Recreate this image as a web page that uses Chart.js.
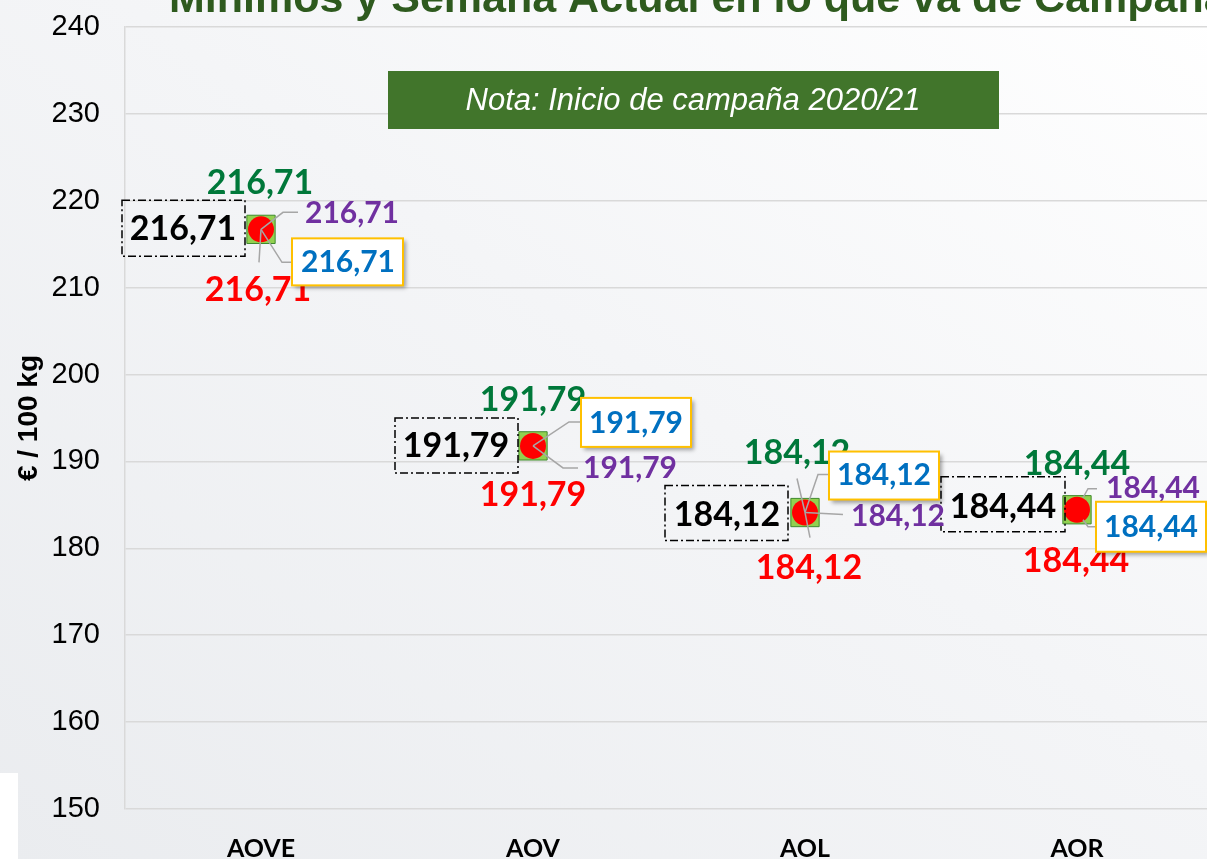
<!DOCTYPE html>
<html lang="es">
<head>
<meta charset="utf-8">
<title>Mínimos y Semana Actual en lo que va de Campaña</title>
<script src="https://cdn.jsdelivr.net/npm/chart.js@4.4.1/dist/chart.umd.min.js"></script>
<style>
    html, body { margin: 0; padding: 0; overflow: hidden; }
    body {
        width: 1207px; height: 859px; position: relative;
        background: linear-gradient(to bottom left, #ffffff 0%, #f4f5f7 45%, #eaecef 100%);
    }
    #wrap { position: absolute; left: 0; top: 0; width: 1215px; height: 859px; }
    #logo { position: absolute; left: 0; top: 773px; width: 18px; height: 86px; background: #fff; }
</style>
</head>
<body>
<div id="logo"></div>
<div id="wrap"><canvas id="myChart" width="1215" height="859"></canvas></div>
<script>
const categories = ['AOVE', 'AOV', 'AOL', 'AOR'];

// valores en €/100 kg (todos iguales al inicio de campaña)
const semanaActual = [216.71, 191.79, 184.12, 184.44];
const maximos = [216.71, 191.79, 184.12, 184.44];
const minimos = [216.71, 191.79, 184.12, 184.44];
const medias = [216.71, 191.79, 184.12, 184.44];
const inicioCampana = [216.71, 191.79, 184.12, 184.44];

const yTicks = { min: 150, max: 240, step: 10 };

// dónde va cada etiqueta respecto a su punto (px)
const labelLayout = {
    semana: [
        { dx: -3, dy: 61, leader: [[0, 0], [-2, 33]] },
        { dx: 0, dy: 49 },
        { dx: 4, dy: 55, leader: [[0, 0], [5, 25]] },
        { dx: -1, dy: 51 }
    ],
    maximo: [
        { dx: -1, dy: -46 },
        { dx: 0, dy: -46 },
        { dx: -8, dy: -60, leader: [[-8, -34], [0, 0]] },
        { dx: 0, dy: -46 }
    ],
    minimo: [
        { dx: -78, dy: 0, box: [-139, -29, -16, 27] },
        { dx: -77, dy: 0, box: [-138, -28, -15, 27] },
        { dx: -78, dy: 2, box: [-140, -27, -17, 28] },
        { dx: -74, dy: -3, box: [-136, -33, -12, 22] }
    ],
    media: [
        { dx: 91, dy: -16, leader: [[0, 0], [22, -17], [37, -17]] },
        { dx: 97, dy: 22, leader: [[0, 0], [30, 22], [45, 22]] },
        { dx: 93, dy: 4, leader: [[0, 0], [38, 2]] },
        { dx: 76, dy: -21, leader: [[6, -12], [11, -21], [20, -21]] }
    ],
    inicio: [
        { dx: 87, dy: 33, box: [31, 9, 142, 56], leader: [[0, 0], [21, 33], [31, 33]] },
        { dx: 103, dy: -23, box: [48, -48, 158, 1], leader: [[0, 0], [36, -24], [48, -24]] },
        { dx: 79, dy: -37, box: [24, -61, 134, -13], leader: [[0, 0], [13, -38], [24, -38]] },
        { dx: 74, dy: 18, box: [19, -8, 129, 42], leader: [[6, 10], [11, 17], [19, 17]] }
    ]
};

const labelStyle = {
    semana: { color: '#FF0000', size: 34 },
    maximo: { color: '#00783A', size: 34 },
    minimo: { color: '#000000', size: 34, frame: 'dashdot' },
    media: { color: '#7030A0', size: 30 },
    inicio: { color: '#0070C0', size: 30, frame: 'gold' }
};

const fmt = v => v.toFixed(2).replace('.', ',');

const etiquetas = {
    id: 'etiquetas',
    afterDatasetsDraw(chart) {
        const ctx = chart.ctx;
        const area = chart.chartArea;
        ctx.save();

        // nota
        ctx.fillStyle = '#41752B';
        ctx.fillRect(area.left + 263, area.top + 44, 611, 58);
        ctx.fillStyle = '#ffffff';
        ctx.font = 'italic 31px "Liberation Sans", Arial, sans-serif';
        ctx.textAlign = 'center';
        ctx.textBaseline = 'middle';
        ctx.fillText('Nota: Inicio de campaña 2020/21', area.left + 263 + 305, area.top + 44 + 30);

        // líneas guía
        chart.data.datasets.forEach((ds, di) => {
            const meta = chart.getDatasetMeta(di);
            meta.data.forEach((pt, i) => {
                const lay = labelLayout[ds.key][i];
                if (!lay.leader) return;
                ctx.beginPath();
                lay.leader.forEach(([dx, dy], k) => {
                    if (k === 0) ctx.moveTo(pt.x + dx, pt.y + dy);
                    else ctx.lineTo(pt.x + dx, pt.y + dy);
                });
                ctx.strokeStyle = '#A6A6A6';
                ctx.lineWidth = 1.5;
                ctx.stroke();
            });
        });

        // etiquetas
        chart.data.datasets.forEach((ds, di) => {
            const meta = chart.getDatasetMeta(di);
            const st = labelStyle[ds.key];
            meta.data.forEach((pt, i) => {
                const lay = labelLayout[ds.key][i];
                if (lay.box) {
                    const [x0, y0, x1, y1] = lay.box;
                    if (st.frame === 'gold') {
                        ctx.save();
                        ctx.shadowColor = 'rgba(0,0,0,0.35)';
                        ctx.shadowBlur = 4;
                        ctx.shadowOffsetX = 3;
                        ctx.shadowOffsetY = 3;
                        ctx.fillStyle = '#ffffff';
                        ctx.fillRect(pt.x + x0, pt.y + y0, x1 - x0, y1 - y0);
                        ctx.restore();
                        ctx.strokeStyle = '#FFC000';
                        ctx.lineWidth = 2;
                        ctx.setLineDash([]);
                    } else {
                        ctx.strokeStyle = '#000000';
                        ctx.lineWidth = 1.5;
                        ctx.setLineDash([8, 3, 2, 3]);
                    }
                    ctx.strokeRect(pt.x + x0, pt.y + y0, x1 - x0, y1 - y0);
                    ctx.setLineDash([]);
                }
                ctx.fillStyle = st.color;
                ctx.font = 'bold ' + st.size + 'px Lato, "Open Sans", sans-serif';
                ctx.textAlign = 'center';
                ctx.textBaseline = 'middle';
                ctx.fillText(fmt(ds.data[i]), pt.x + lay.dx, pt.y + lay.dy);
            });
        });

        // título (cortado arriba)
        ctx.fillStyle = '#2E5A1E';
        ctx.font = 'bold 43px "Liberation Sans", Arial, sans-serif';
        ctx.textAlign = 'left';
        ctx.textBaseline = 'alphabetic';
        ctx.fillText('Mínimos y Semana Actual en lo que va de Campaña', 169, 12);

        ctx.restore();
    }
};

const ctx = document.getElementById('myChart').getContext('2d');
const chart = new Chart(ctx, {
    type: 'line',
    data: {
        labels: categories,
        datasets: [
            {
                key: 'semana', label: 'Semana actual', data: semanaActual, showLine: false,
                pointStyle: 'circle', pointRadius: 13, pointBackgroundColor: '#FF0000',
                pointBorderColor: '#FF0000', pointBorderWidth: 0
            },
            {
                key: 'maximo', label: 'Máximo', data: maximos, showLine: false,
                pointStyle: 'rect', pointRadius: 20, pointBackgroundColor: '#92D050',
                pointBorderColor: '#3F8A2E', pointBorderWidth: 1
            },
            { key: 'minimo', label: 'Mínimo', data: minimos, showLine: false, pointRadius: 0 },
            { key: 'media', label: 'Media', data: medias, showLine: false, pointRadius: 0 },
            { key: 'inicio', label: 'Inicio campaña', data: inicioCampana, showLine: false, pointRadius: 0 }
        ]
    },
    options: {
        responsive: false,
        animation: false,
        layout: { autoPadding: false, padding: { top: 27, right: 2, left: 0, bottom: 0 } },
        plugins: {
            legend: { display: false },
            tooltip: { enabled: false },
            title: { display: false }
        },
        scales: {
            x: {
                offset: true,
                grid: { display: false, drawTicks: false },
                border: { display: false },
                ticks: {
                    color: '#000000',
                    font: { family: 'Lato', size: 25, weight: 'bold' },
                    padding: 25
                },
                afterFit: s => {
                    s.height = 50;
                    s.paddingLeft = 0;
                    s.paddingRight = 0;
                }
            },
            y: {
                min: yTicks.min,
                max: yTicks.max,
                ticks: {
                    stepSize: yTicks.step,
                    color: '#000000',
                    font: { family: '"Liberation Sans", Arial', size: 29 },
                    padding: 25
                },
                grid: { color: '#D9D9D9', lineWidth: 1.5, drawTicks: false },
                border: { display: true, color: '#D9D9D9', width: 1.5 },
                title: {
                    display: true,
                    text: '€ / 100 kg',
                    color: '#000000',
                    font: { family: '"Liberation Sans", Arial', size: 28, weight: 'bold' },
                    padding: { top: 12, bottom: 0 }
                },
                afterFit: s => {
                    s.width = 125;
                    s.paddingTop = 0;
                    s.paddingBottom = 0;
                }
            }
        }
    },
    plugins: [etiquetas]
});

if (document.fonts) {
    Promise.all([
        document.fonts.load('bold 34px Lato'),
        document.fonts.load('bold 29px "Liberation Sans"'),
        document.fonts.load('italic 31px "Liberation Sans"')
    ]).then(() => chart.update());
}
</script>
</body>
</html>
